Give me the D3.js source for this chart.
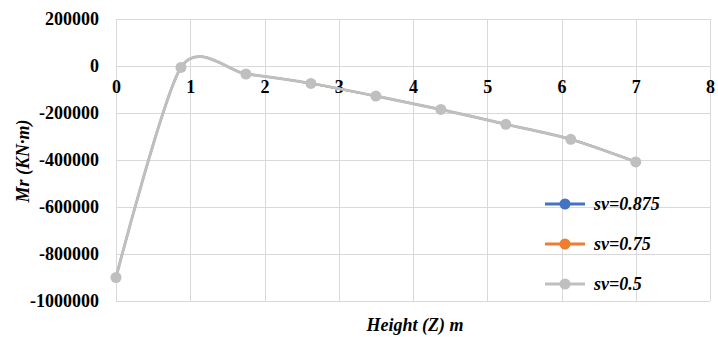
<!DOCTYPE html>
<html>
<head>
<script src="https://cdn.jsdelivr.net/npm/d3@7"></script>
</head>
<body style="margin:0">
<svg id="chart" width="718" height="337" font-family="Times New Roman"></svg>
<script>
// Heights along the member (m)
const heights = [0, 0.875, 1.75, 2.625, 3.5, 4.375, 5.25, 6.125, 7];
// Moment Mr (KN·m) for each shear ratio sv
const mrSv0875 = [-900000, -6000, -34000, -74000, -128000, -185000, -248000, -312000, -408000];
const mrSv075  = [-900000, -6000, -34000, -74000, -128000, -185000, -248000, -312000, -408000];
const mrSv05   = [-900000, -6000, -34000, -74000, -128000, -185000, -248000, -312000, -408000];
const seriesNames = ["sv=0.875", "sv=0.75", "sv=0.5"];
const seriesColors = ["#4472C4", "#ED7D31", "#BFBFBF"];
const xTicks = [0, 1, 2, 3, 4, 5, 6, 7, 8];
const yTicks = [200000, 0, -200000, -400000, -600000, -800000, -1000000];

const svg = d3.select("#chart");
const plotLeft = 116, plotRight = 710, plotTop = 19, plotBottom = 301;

const x = d3.scaleLinear().domain([0, 8]).range([plotLeft, plotRight]);
const y = d3.scaleLinear().domain([-1000000, 200000]).range([plotBottom, plotTop]);

function serifText(sel, italic) {
  return sel
    .style("font-family", "Tinos, 'Times New Roman', 'Liberation Serif', serif")
    .style("font-size", "18px")
    .style("font-weight", "bold")
    .style("font-style", italic ? "italic" : "normal")
    .attr("fill", "#000");
}

// Gridlines
const grid = svg.append("g").attr("stroke", "#D9D9D9").attr("stroke-width", 1);
grid.selectAll("line.v").data(xTicks).join("line")
  .attr("class", "v")
  .attr("x1", d => Math.round(x(d)) + 0.5).attr("x2", d => Math.round(x(d)) + 0.5)
  .attr("y1", plotTop).attr("y2", plotBottom);
grid.selectAll("line.h").data(yTicks).join("line")
  .attr("class", "h")
  .attr("x1", plotLeft).attr("x2", plotRight)
  .attr("y1", d => Math.round(y(d)) + 0.5).attr("y2", d => Math.round(y(d)) + 0.5);

// Y axis labels
const yAxis = svg.append("g").attr("transform", `translate(${plotLeft},0)`)
  .call(d3.axisLeft(y).tickValues(yTicks).tickSize(0).tickPadding(17).tickFormat(d => String(d)));
yAxis.select(".domain").remove();
yAxis.attr("font-family", null).attr("font-size", null);
serifText(yAxis.selectAll("text"), false);

// X axis labels, placed at the zero crossing
const xAxis = svg.append("g").attr("transform", `translate(0,${y(0)})`)
  .call(d3.axisBottom(x).tickValues(xTicks).tickSize(0).tickPadding(14).tickFormat(d => String(d)));
xAxis.select(".domain").remove();
xAxis.attr("font-family", null).attr("font-size", null);
serifText(xAxis.selectAll("text"), false);

// Series: the two upper-ratio curves coincide with sv=0.5 and sit beneath it
const allSeries = [mrSv0875, mrSv075, mrSv05];
const line = d3.line()
  .x((d, i) => x(heights[i]))
  .y(d => y(d))
  .curve(d3.curveCardinal.tension(0.2));

allSeries.forEach((vals, k) => {
  const onTop = k === allSeries.length - 1;
  const g = svg.append("g");
  g.append("path").datum(vals)
    .attr("d", line).attr("fill", "none")
    .attr("stroke", seriesColors[k]).attr("stroke-width", onTop ? 3 : 2);
  g.selectAll("circle").data(vals).join("circle")
    .attr("cx", (d, i) => x(heights[i])).attr("cy", d => y(d))
    .attr("r", onTop ? 5.5 : 4.5).attr("fill", seriesColors[k]);
});

// Legend
const legend = svg.append("g");
seriesNames.forEach((name, k) => {
  const ly = 204 + k * 40;
  legend.append("line")
    .attr("x1", 545).attr("x2", 585).attr("y1", ly).attr("y2", ly)
    .attr("stroke", seriesColors[k]).attr("stroke-width", 3);
  legend.append("circle").attr("cx", 565).attr("cy", ly).attr("r", 5.5).attr("fill", seriesColors[k]);
  serifText(legend.append("text").attr("x", 594).attr("y", ly).attr("dy", "0.35em"), true)
    .text(name);
});

// Axis titles
serifText(svg.append("text")
  .attr("transform", `translate(23,${(plotTop + plotBottom) / 2 + 1}) rotate(-90)`)
  .attr("text-anchor", "middle")
  .attr("dy", "0.35em"), true)
  .text("Mr (KN·m)");

serifText(svg.append("text")
  .attr("x", 415).attr("y", 325).attr("dy", "0.35em")
  .attr("text-anchor", "middle"), true)
  .text("Height (Z) m");
</script>
</body>
</html>
